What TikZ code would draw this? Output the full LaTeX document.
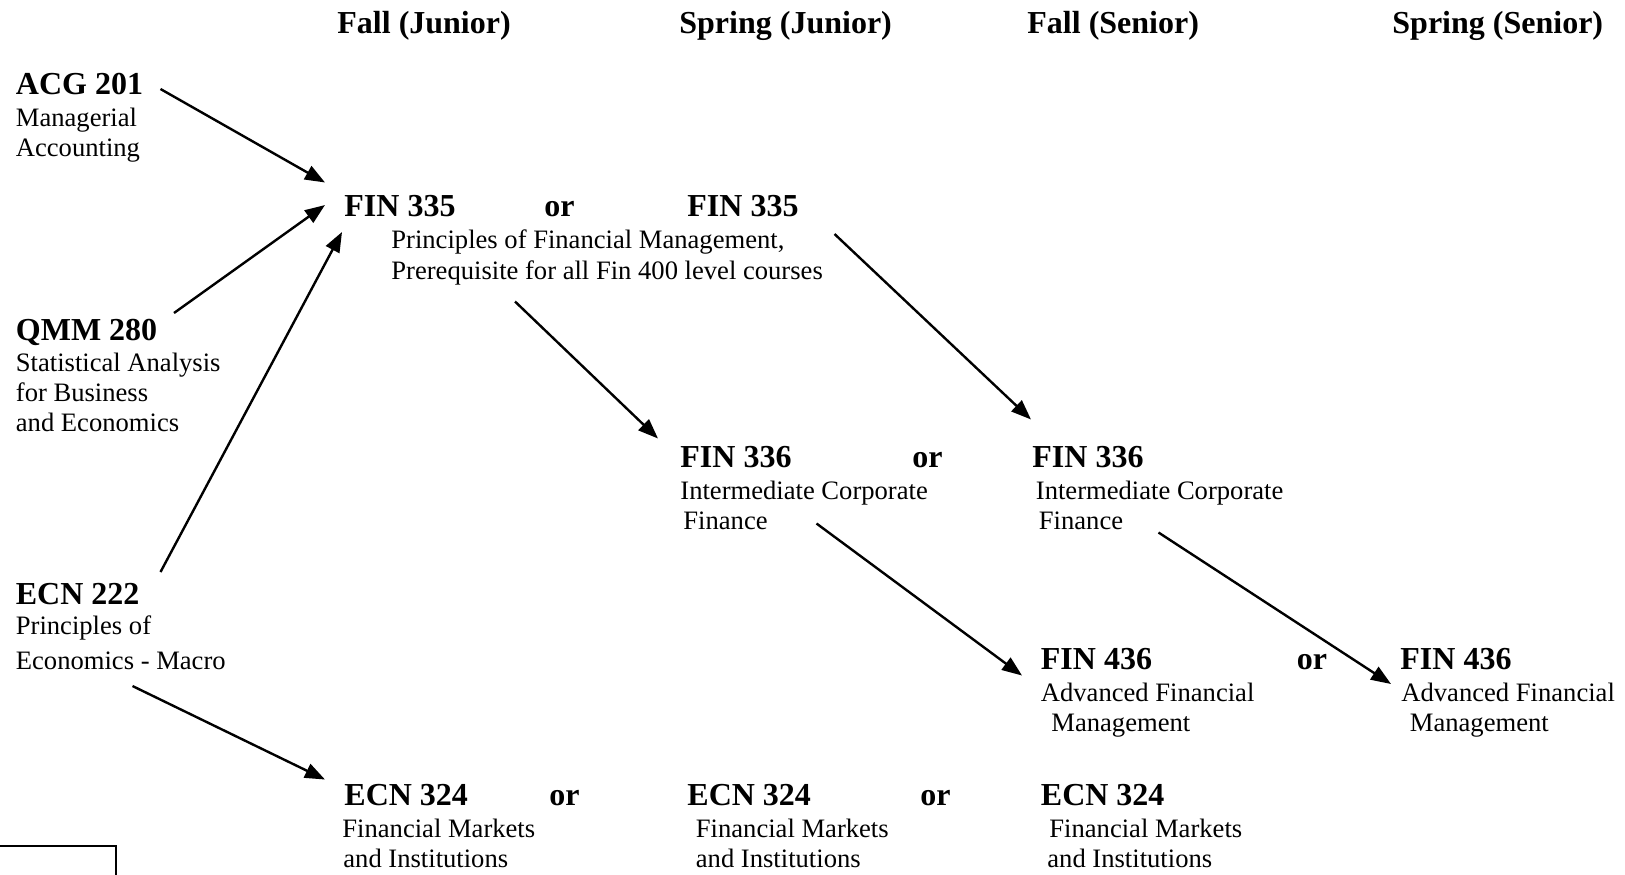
\documentclass[tikz,border=0pt]{standalone}
\usepackage{fontspec}
\setmainfont{Liberation Serif}
\usetikzlibrary{arrows.meta}
\tikzset{
  hd/.style={anchor=base west,inner sep=0pt,font=\fontsize{16}{19}\selectfont\bfseries},
  ttl/.style={anchor=base west,inner sep=0pt,font=\fontsize{16}{19}\selectfont\bfseries},
  txt/.style={anchor=base west,inner sep=0pt,font=\fontsize{13.3}{15}\selectfont},
  arr/.style={line width=1.2pt,-{Triangle[length=10pt,width=7.5pt]}}
}
\begin{document}
\begin{tikzpicture}[x=0.5pt,y=-0.5pt]
\useasboundingbox (0,0) rectangle (1625,874);
% headers
\node[hd] (h1) at (337,33) {Fall (Junior)};
\node[hd] (h2) at (679,33) {Spring (Junior)};
\node[hd] (h3) at (1027,33) {Fall (Senior)};
\node[hd] (h4) at (1392,33) {Spring (Senior)};
% ACG 201
\node[ttl] (acg) at (15.5,94) {ACG 201};
\node[txt] (acg1) at (15.5,126) {Managerial};
\node[txt] (acg2) at (15.5,156.5) {Accounting};
% QMM 280
\node[ttl] (qmm) at (15.5,340) {QMM 280};
\node[txt] (qmm1) at (15.5,371) {Statistical Analysis};
\node[txt] (qmm2) at (15.5,401) {for Business};
\node[txt] (qmm3) at (15.5,431) {and Economics};
% ECN 222
\node[ttl] (ecn) at (15.5,604) {ECN 222};
\node[txt] (ecn1) at (15.5,634) {Principles of};
\node[txt] (ecn2) at (15.5,669.5) {Economics - Macro};
% FIN 335
\node[ttl] (f335a) at (344,216.5) {FIN 335};
\node[ttl] (or1) at (544,216.5) {or};
\node[ttl] (f335b) at (687,216.5) {FIN 335};
\node[txt] (f335l1) at (391,248.5) {Principles of Financial Management,};
\node[txt] (f335l2) at (391,279) {Prerequisite for all Fin 400 level courses};
% FIN 336
\node[ttl] (f336a) at (680,467.5) {FIN 336};
\node[ttl] (or2) at (912,467.5) {or};
\node[ttl] (f336b) at (1032,467.5) {FIN 336};
\node[txt] (f336a1) at (680,499.5) {Intermediate Corporate};
\node[txt] (f336a2) at (683,529.5) {Finance};
\node[txt] (f336b1) at (1035.5,499.5) {Intermediate Corporate};
\node[txt] (f336b2) at (1038.5,529.5) {Finance};
% FIN 436
\node[ttl] (f436a) at (1040.5,669.5) {FIN 436};
\node[ttl] (or3) at (1296.5,669.5) {or};
\node[ttl] (f436b) at (1400,669.5) {FIN 436};
\node[txt] (f436a1) at (1040.5,701.5) {Advanced Financial};
\node[txt] (f436a2) at (1051,731.5) {Management};
\node[txt] (f436b1) at (1401,701.5) {Advanced Financial};
\node[txt] (f436b2) at (1409.5,731.5) {Management};
% ECN 324
\node[ttl] (e324a) at (344,805.5) {ECN 324};
\node[ttl] (or4) at (549,805.5) {or};
\node[ttl] (e324b) at (687,805.5) {ECN 324};
\node[ttl] (or5) at (920,805.5) {or};
\node[ttl] (e324c) at (1040.5,805.5) {ECN 324};
\node[txt] (e324a1) at (342,837.5) {Financial Markets};
\node[txt] (e324a2) at (343,867.5) {and Institutions};
\node[txt] (e324b1) at (695.5,837.5) {Financial Markets};
\node[txt] (e324b2) at (695.5,867.5) {and Institutions};
\node[txt] (e324c1) at (1049,837.5) {Financial Markets};
\node[txt] (e324c2) at (1047,867.5) {and Institutions};
% arrow end points
\coordinate (a1s) at (160.5,89);   \coordinate (a1e) at (325,182.5);
\coordinate (a2s) at (174,313);    \coordinate (a2e) at (325,205);
\coordinate (a3s) at (160.5,572);  \coordinate (a3e) at (342,232);
\coordinate (a4s) at (132.5,686);  \coordinate (a4e) at (325,779.5);
\coordinate (a5s) at (515,301.5);  \coordinate (a5e) at (658,438.5);
\coordinate (a6s) at (834.5,234);  \coordinate (a6e) at (1031,419.5);
\coordinate (a7s) at (816.5,523.5);\coordinate (a7e) at (1022,675.5);
\coordinate (a8s) at (1158.5,532.5);\coordinate (a8e) at (1391,684);
\draw[arr] (a1s) -- (a1e);
\draw[arr] (a2s) -- (a2e);
\draw[arr] (a3s) -- (a3e);
\draw[arr] (a4s) -- (a4e);
\draw[arr] (a5s) -- (a5e);
\draw[arr] (a6s) -- (a6e);
\draw[arr] (a7s) -- (a7e);
\draw[arr] (a8s) -- (a8e);
% partial legend box at bottom left
\begin{scope}
\clip (0,0) rectangle (1625,874);
\draw[line width=0.8pt] (-5,846) -- (116,846) -- (116,880);
\end{scope}
\end{tikzpicture}
\end{document}
